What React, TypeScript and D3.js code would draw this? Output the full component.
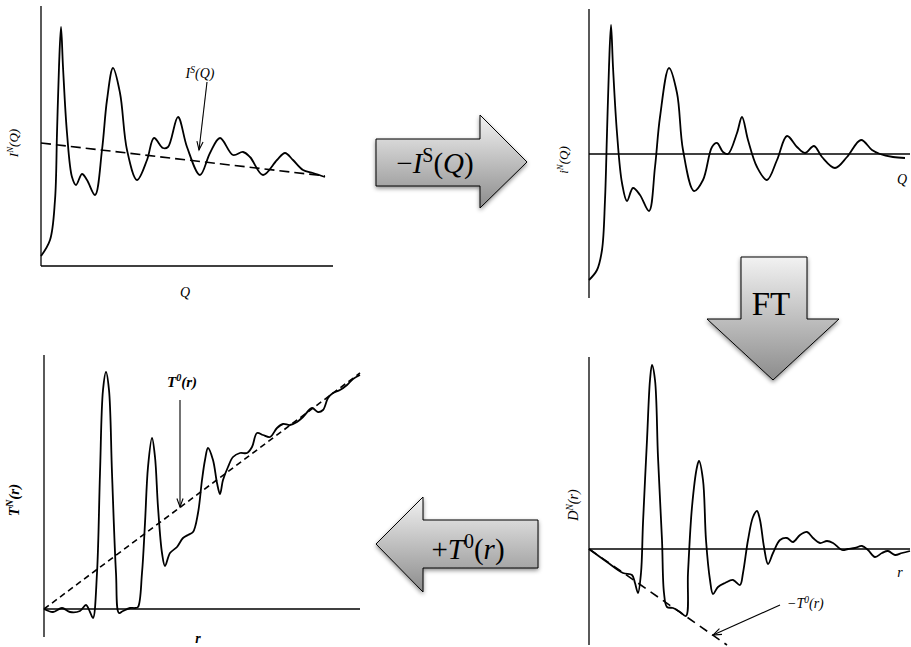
import React from 'react';
import * as d3 from 'd3';

// panel 1: measured intensity I^N(Q) and self-scattering I^S(Q)
const measQ = [0, 0.45, 0.7, 0.8, 0.9, 1.0, 1.1, 1.3, 1.55, 1.75, 2.05, 2.3, 2.7, 3.05, 3.3, 3.6, 3.95, 4.3, 4.8, 5.3, 5.65, 6.1, 6.35, 6.85, 7.3, 7.95, 8.45, 8.95, 9.6, 10.1, 10.45, 11.1, 11.8, 12.2, 12.6, 13.1, 13.6, 14.2];
const measI = [0.5, 1.3, 3.3, 6.65, 9.95, 11.95, 9.95, 6.65, 4.45, 4.05, 4.6, 4.3, 3.55, 5.8, 8.3, 9.9, 8.65, 5.8, 4.3, 5.3, 6.4, 5.9, 5.95, 7.45, 5.95, 4.55, 5.65, 6.4, 5.55, 5.7, 5.45, 4.55, 5.3, 5.65, 5.3, 4.8, 4.65, 4.45];
const selfQ = [0, 14.2];
const selfI = [6.15, 4.5];

// panel 2: distinct scattering i^N(Q)
const distQ = [0, 0.4, 0.65, 0.8, 0.9, 1.0, 1.1, 1.2, 1.4, 1.65, 1.9, 2.2, 2.55, 3.0, 3.3, 3.55, 4.0, 4.4, 4.7, 5.25, 5.7, 6.15, 6.4, 6.7, 6.95, 7.4, 7.65, 7.95, 8.4, 8.9, 9.4, 9.9, 10.4, 10.8, 11.25, 11.65, 12.3, 12.9, 13.6, 14.15, 14.55, 15.2, 15.8];
const distI = [-6.3, -5.8, -4.8, -2.3, 1.05, 4.35, 6.45, 4.35, 1.05, -1.45, -2.35, -1.7, -2.05, -2.85, -0.65, 1.85, 4.3, 3.05, 0.2, -1.85, -1.3, 0.35, 0.55, 0.1, 0, 1.05, 1.85, 0.7, -0.65, -1.3, -0.3, 0.9, 0.35, 0.05, 0.4, -0.15, -0.7, -0.15, 0.7, 0.2, 0, -0.15, -0.2];

// panel 3: total correlation T^N(r) and average density T^0(r)
const totR = [0, 0.45, 0.9, 1.3, 1.8, 2.1, 2.3, 2.45, 2.65, 2.8, 2.95, 3.1, 3.25, 3.4, 3.6, 3.75, 3.95, 4.3, 4.55, 4.7, 4.9, 5.05, 5.2, 5.4, 5.55, 5.7, 5.9, 6.05, 6.3, 6.65, 6.95, 7.2, 7.45, 7.7, 7.9, 8.05, 8.2, 8.45, 8.65, 8.8, 8.95, 9.2, 9.45, 9.8, 10.15, 10.4, 10.65, 10.95, 11.3, 11.65, 11.95, 12.3, 12.65, 12.95, 13.4, 13.7, 13.95, 14.2, 14.45, 14.8, 15.15, 15.45, 15.8];
const totT = [0, -0.15, 0.05, -0.15, -0.1, 0.2, -0.15, -0.45, 1.8, 6.8, 10.95, 11.85, 10.95, 6.8, 1.8, -0.2, -0.1, 0.05, 0.05, 0.1, 1.8, 4.3, 7.1, 8.55, 7.6, 5.1, 2.8, 2.15, 2.8, 3.1, 3.55, 3.7, 3.85, 4.8, 6.45, 7.45, 8.05, 7.45, 6.3, 5.75, 6.45, 7.1, 7.6, 7.8, 7.8, 8.1, 8.8, 8.7, 8.6, 9.05, 9.25, 9.2, 9.35, 9.6, 10.05, 9.85, 9.95, 10.55, 10.8, 10.95, 11.2, 11.5, 11.7];
const avgR = [0, 15.8];
const avgT = [0, 11.8];

// panel 4: differential correlation D^N(r) and -T^0(r)
const diffR = [0, 0.9, 1.7, 2.15, 2.3, 2.45, 2.6, 2.7, 2.9, 3.05, 3.15, 3.3, 3.45, 3.65, 3.75, 3.9, 4.2, 4.55, 4.85, 4.95, 5.15, 5.4, 5.5, 5.7, 5.85, 6.05, 6.2, 6.45, 6.8, 7.2, 7.55, 7.7, 7.95, 8.2, 8.4, 8.55, 8.75, 8.95, 9.2, 9.55, 9.9, 10.2, 10.55, 10.9, 11.2, 11.55, 11.9, 12.2, 12.65, 12.95, 13.3, 13.65, 13.95, 14.3, 14.65, 14.95, 15.3, 15.65, 16.05];
const diffD = [0, -0.65, -1.2, -1.3, -1.7, -2.2, -1.2, 1.3, 5.45, 8.45, 9.2, 8.45, 4.6, 0.45, -2.2, -2.9, -2.95, -3.15, -3.35, -1.2, 2.1, 4.1, 4.4, 3.45, 0.45, -1.55, -2.25, -1.9, -1.7, -1.55, -1.8, -1.2, 0.45, 1.6, 1.9, 1.45, 0.1, -0.75, -0.2, 0.45, 0.55, 0.35, 0.7, 0.85, 0.55, 0.3, 0.4, 0.3, -0.05, 0, 0.05, 0.15, -0.05, -0.4, -0.2, -0.1, -0.3, -0.2, -0.1];
const negAvgR = [0, 6.9];
const negAvgD = [0, -4.8];

const serif = '"Liberation Serif", "DejaVu Serif", serif';

const zip = (xs: number[], ys: number[]) => xs.map((x, i) => [x, ys[i]] as [number, number]);

function Panel({ xDom, yDom, xRange, yRange, curve, dashed, dash, zeroLine }: any) {
  const x = d3.scaleLinear().domain(xDom).range(xRange);
  const y = d3.scaleLinear().domain(yDom).range(yRange);
  const line = d3.line<[number, number]>().curve(d3.curveCatmullRom.alpha(0.5)).x(d => x(d[0])).y(d => y(d[1]));
  const straight = d3.line<[number, number]>().x(d => x(d[0])).y(d => y(d[1]));
  return (
    <g>
      <line x1={x(0)} x2={x(0)} y1={y(yDom[0])} y2={y(yDom[1])} stroke="#000" strokeWidth={1.3} />
      <line x1={x(0)} x2={x(xDom[1])} y1={y(zeroLine)} y2={y(zeroLine)} stroke="#000" strokeWidth={1.3} />
      {dashed && <path d={straight(dashed) || ''} fill="none" stroke="#000" strokeWidth={1.6} strokeDasharray={dash} />}
      <path d={line(curve) || ''} fill="none" stroke="#000" strokeWidth={1.8} strokeLinejoin="round" />
    </g>
  );
}

function Pointer({ x1, y1, x2, y2 }: any) {
  const a = Math.atan2(y2 - y1, x2 - x1);
  const len = 9, spread = 0.35;
  const p1 = [x2 - len * Math.cos(a - spread), y2 - len * Math.sin(a - spread)];
  const p2 = [x2 - len * Math.cos(a + spread), y2 - len * Math.sin(a + spread)];
  return (
    <g stroke="#000" strokeWidth={1.1} fill="none">
      <line x1={x1} y1={y1} x2={x2} y2={y2} />
      <polyline points={`${p1.join(',')} ${x2},${y2} ${p2.join(',')}`} />
    </g>
  );
}

function Label({ x, y, base, sup, rest, size, rotate, anchor = 'middle', weight = 'normal' }: any) {
  return (
    <text
      transform={`translate(${x},${y})${rotate ? ' rotate(-90)' : ''}`}
      textAnchor={anchor}
      fontFamily={serif}
      fontStyle="italic"
      fontWeight={weight}
      fontSize={size}
    >
      <tspan>{base}</tspan>
      <tspan dy={-size * 0.38} fontSize={size * 0.68}>{sup}</tspan>
      <tspan dy={size * 0.38}>{rest}</tspan>
    </text>
  );
}

export default function App() {
  const s1x = d3.scaleLinear().domain([0, 14.6]).range([41, 333]);
  const s1y = d3.scaleLinear().domain([0, 13]).range([266, 6]);
  const s3x = d3.scaleLinear().domain([0, 15.8]).range([44, 360]);
  const s3y = d3.scaleLinear().domain([-1.4, 12.7]).range([637, 355]);
  const s4x = d3.scaleLinear().domain([0, 16.05]).range([589, 910]);
  const s4y = d3.scaleLinear().domain([-4.8, 9.6]).range([645, 357]);

  return (
    <svg width={911} height={647} style={{ position: 'absolute', left: 0, top: 0, background: '#fff' }}>
      <defs>
        <linearGradient id="gv" x1="0" y1="0" x2="0" y2="1">
          <stop offset="0" stopColor="#f2f2f2" />
          <stop offset="1" stopColor="#8c8c8c" />
        </linearGradient>
        <filter id="sh" x="-20%" y="-20%" width="140%" height="150%">
          <feDropShadow dx="0" dy="2" stdDeviation="2" floodColor="#000" floodOpacity="0.45" />
        </filter>
      </defs>

      <Panel xDom={[0, 14.6]} yDom={[0, 13]} xRange={[41, 333]} yRange={[266, 6]} zeroLine={0}
        curve={zip(measQ, measI)} dashed={zip(selfQ, selfI)} dash="10 5" />
      <Panel xDom={[0, 16.05]} yDom={[-7.2, 7.25]} xRange={[589, 910]} yRange={[298, 9]} zeroLine={0}
        curve={zip(distQ, distI)} />
      <Panel xDom={[0, 15.8]} yDom={[-1.4, 12.7]} xRange={[44, 360]} yRange={[637, 355]} zeroLine={0}
        curve={zip(totR, totT)} dashed={zip(avgR, avgT)} dash="6 4" />
      <Panel xDom={[0, 16.05]} yDom={[-4.8, 9.6]} xRange={[589, 910]} yRange={[645, 357]} zeroLine={0}
        curve={zip(diffR, diffD)} dashed={zip(negAvgR, negAvgD)} dash="9 6" />

      {/* annotations */}
      <Label x={s1x(7.95)} y={s1y(9.4)} base="I" sup="S" rest="(Q)" size={14} />
      <Pointer x1={s1x(8.3)} y1={s1y(9.2)} x2={s1x(7.9)} y2={s1y(5.8)} />
      <Label x={s3x(6.9)} y={s3y(11.1)} base="T" sup="0" rest="(r)" size={15} weight="bold" />
      <Pointer x1={s3x(6.8)} y1={s3y(10.45)} x2={s3x(6.8)} y2={s3y(5.1)} />
      <Label x={s4x(9.9)} y={s4y(-2.95)} base="−T" sup="0" rest="(r)" size={14} anchor="start" />
      <Pointer x1={s4x(9.55)} y1={s4y(-2.8)} x2={s4x(6.2)} y2={s4y(-4.3)} />

      {/* axis labels */}
      <Label x={18} y={143} base="I" sup="N" rest="(Q)" size={13} rotate />
      <Label x={568} y={160} base="i" sup="N" rest="(Q)" size={13} rotate />
      <Label x={19} y={500} base="T" sup="N" rest="(r)" size={15} rotate weight="bold" />
      <Label x={578} y={505} base="D" sup="N" rest="(r)" size={14} rotate />
      <text x={185} y={297} textAnchor="middle" fontFamily={serif} fontStyle="italic" fontSize={14}>Q</text>
      <text x={902} y={184} textAnchor="middle" fontFamily={serif} fontStyle="italic" fontSize={14}>Q</text>
      <text x={198} y={643} textAnchor="middle" fontFamily={serif} fontStyle="italic" fontWeight="bold" fontSize={14}>r</text>
      <text x={900} y={577} textAnchor="middle" fontFamily={serif} fontStyle="italic" fontSize={14}>r</text>

      {/* process arrows */}
      <g filter="url(#sh)" fill="url(#gv)" stroke="#000" strokeWidth={1}>
        <polygon points="376,139 480,139 480,115 527,162 480,208 480,186 376,186" />
        <polygon points="741,257 807,257 807,319 839,319 773,380 707,319 741,319" />
        <polygon points="538,520 423,520 423,497 376,544 423,592 423,568 538,568" />
      </g>
      <text x={435} y={173} textAnchor="middle" fontFamily={serif} fontSize={29}>
        <tspan>−</tspan><tspan fontStyle="italic">I</tspan>
        <tspan dy={-11} fontSize={20}>S</tspan><tspan dy={11}>(</tspan><tspan fontStyle="italic">Q</tspan><tspan>)</tspan>
      </text>
      <text x={771} y={315} textAnchor="middle" fontFamily={serif} fontSize={33}>FT</text>
      <text x={468} y={559} textAnchor="middle" fontFamily={serif} fontSize={29}>
        <tspan>+</tspan><tspan fontStyle="italic">T</tspan>
        <tspan dy={-11} fontSize={20}>0</tspan><tspan dy={11}>(</tspan><tspan fontStyle="italic">r</tspan><tspan>)</tspan>
      </text>
    </svg>
  );
}
